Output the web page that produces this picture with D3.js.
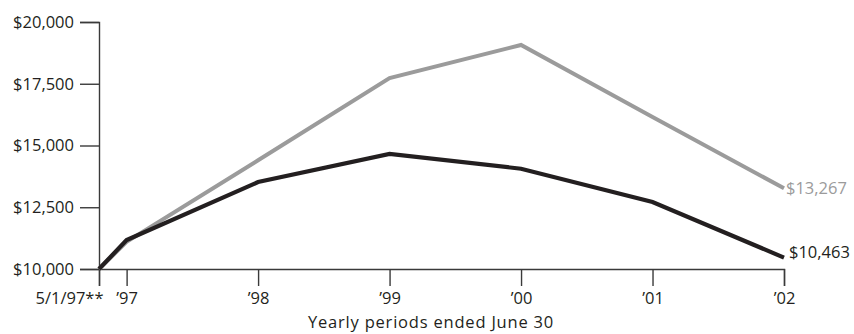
<!DOCTYPE html>
<html>
<head>
<meta charset="utf-8">
<script src="https://cdn.jsdelivr.net/npm/d3@7"></script>
<style>
  html, body { margin: 0; padding: 0; background: #fff; }
  svg { display: block; }
  text { font-family: "Open Sans", "Noto Sans", sans-serif; }
</style>
</head>
<body>
<svg id="chart" width="854" height="334"></svg>
<script>
// Period positions in years from June 30, 1997 (inception 5/1/97 sits just before)
const periods = [-0.21, 0, 1, 2, 3, 4, 5];
const periodLabels = ["5/1/97**", "\u201997", "\u201998", "\u201999", "\u201900", "\u201901", "\u201902"];

// Growth of a $10,000 investment
const indexValues = [10000, 11100, 14400, 17730, 19070, 16150, 13267];
const fundValues  = [10000, 11170, 13520, 14660, 14060, 12710, 10463];

const yTicks = [10000, 12500, 15000, 17500, 20000];

const svg = d3.select("#chart");

const x = d3.scaleLinear().domain([-0.21, 5]).range([99, 784]);
const y = d3.scaleLinear().domain([10000, 20000]).range([269, 22]);

const fmt = d3.format("$,");
const axisColor = "#3a3a3a";
const textColor = "#231f20";
const fontSize = "16.5px";

// Y axis
const yAxis = svg.append("g")
  .attr("transform", "translate(99,0)")
  .call(d3.axisLeft(y).tickValues(yTicks).tickFormat(fmt).tickSize(19).tickPadding(6));
yAxis.select(".domain").attr("stroke", axisColor).attr("stroke-width", 1.4);
yAxis.selectAll(".tick line").attr("stroke", axisColor).attr("stroke-width", 1.4);
yAxis.selectAll(".tick text")
  .attr("fill", textColor)
  .style("font-size", fontSize)
  .style("font-family", "'Open Sans', 'Noto Sans', sans-serif");

// X axis
const xAxis = svg.append("g")
  .attr("transform", "translate(0,269)")
  .call(d3.axisBottom(x).tickValues(periods)
    .tickFormat((d, i) => periodLabels[i]).tickSize(17).tickPadding(6));
xAxis.select(".domain").attr("stroke", axisColor).attr("stroke-width", 1.4);
xAxis.selectAll(".tick line").attr("stroke", axisColor).attr("stroke-width", 1.4);
xAxis.selectAll(".tick text")
  .attr("fill", textColor)
  .style("font-size", fontSize)
  .style("font-family", "'Open Sans', 'Noto Sans', sans-serif");
// Inception label sits to the left of its tick
xAxis.selectAll(".tick text").filter((d, i) => i === 0)
  .attr("text-anchor", "end").attr("dx", "4px");

// Axis title
svg.append("text")
  .attr("x", 431).attr("y", 328)
  .attr("text-anchor", "middle")
  .attr("fill", textColor)
  .style("font-size", fontSize)
  .style("letter-spacing", "0.8px")
  .text("Yearly periods ended June 30");

// Lines
const line = vals => d3.line()
  .x((d, i) => x(periods[i]))
  .y(d => y(d))(vals);

svg.append("path")
  .attr("d", line(indexValues))
  .attr("fill", "none")
  .attr("stroke", "#9b9b9b")
  .attr("stroke-width", 4)
  .attr("stroke-linejoin", "miter");

svg.append("path")
  .attr("d", line(fundValues))
  .attr("fill", "none")
  .attr("stroke", textColor)
  .attr("stroke-width", 4.2)
  .attr("stroke-linejoin", "miter");

// End labels
const last = periods.length - 1;
svg.append("text")
  .attr("x", x(periods[last]) + 2)
  .attr("y", y(indexValues[last]) + 6)
  .attr("fill", "#9b9b9b")
  .style("font-size", fontSize)
  .text(fmt(indexValues[last]));

svg.append("text")
  .attr("x", x(periods[last]) + 5)
  .attr("y", y(fundValues[last]) + 0)
  .attr("fill", textColor)
  .style("font-size", fontSize)
  .text(fmt(fundValues[last]));
</script>
</body>
</html>
